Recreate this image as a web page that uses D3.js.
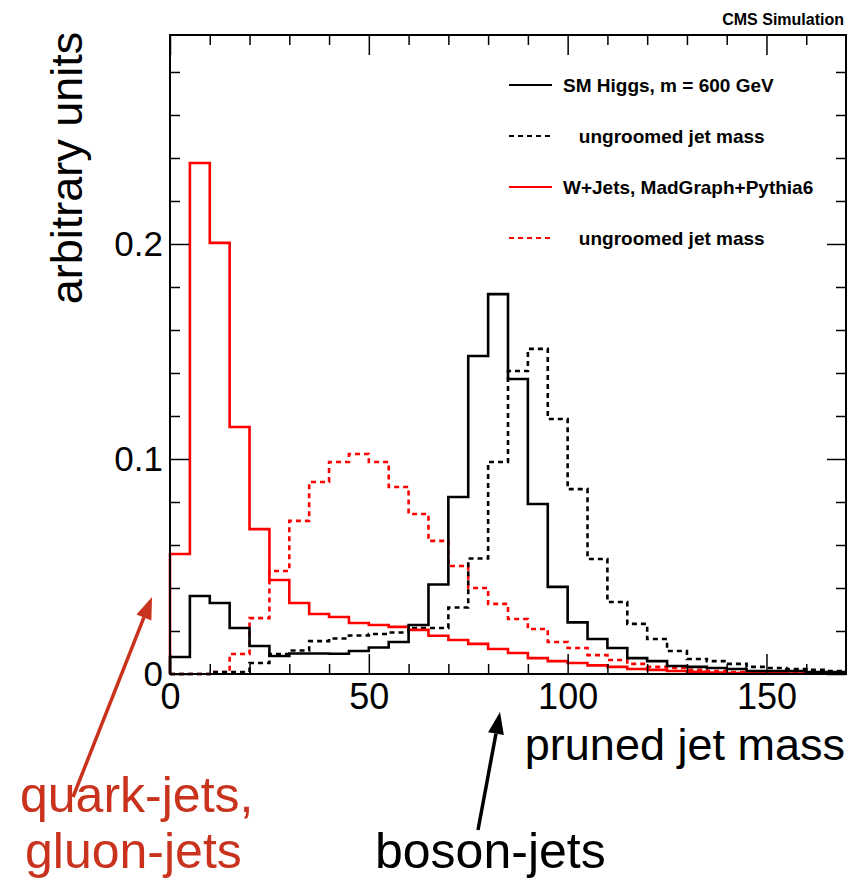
<!DOCTYPE html>
<html>
<head>
<meta charset="utf-8">
<script src="https://cdn.jsdelivr.net/npm/d3@7"></script>
<style>
  html, body { margin: 0; padding: 0; background: #fff; }
  svg { display: block; }
</style>
</head>
<body>
<svg id="chart" width="859" height="893"></svg>
<script>
// ---- data ----
const binEdgesStart = 0;
const binWidth = 5;
const higgsPruned = [0.0079,0.0363,0.0330,0.0214,0.0130,0.0084,0.0095,0.0095,0.0094,0.0107,0.0123,0.0149,0.0228,0.0416,0.0823,0.1479,0.1767,0.1372,0.0791,0.0405,0.0240,0.0163,0.0121,0.0074,0.0060,0.0037,0.0033,0.0028,0.0023,0.0014,0.0014,0.0014,0.0009,0.0009];
const higgsUngroomed = [0,0,0.0009,0.0009,0.0051,0.0093,0.0109,0.0153,0.0165,0.0179,0.0186,0.0193,0.0214,0.0214,0.0309,0.0537,0.0986,0.1409,0.1512,0.1186,0.0860,0.0535,0.0335,0.0233,0.0163,0.0107,0.0070,0.0060,0.0047,0.0033,0.0028,0.0023,0.0019,0.0014];
const wjetsPruned = [0.0558,0.2377,0.2005,0.1149,0.0674,0.0437,0.0330,0.0279,0.0265,0.0237,0.0228,0.0219,0.0205,0.0178,0.0158,0.0140,0.0116,0.0098,0.0074,0.0060,0.0051,0.0040,0.0033,0.0023,0.0019,0.0014,0.0010,0.0007,0.0005,0.0004,0.0003,0.0002,0.0002,0.0001];
const wjetsUngroomed = [0,0,0.0009,0.0093,0.0260,0.0479,0.0712,0.0893,0.0986,0.1023,0.0986,0.0870,0.0744,0.0619,0.0502,0.0400,0.0326,0.0256,0.0209,0.0149,0.0121,0.0088,0.0065,0.0047,0.0033,0.0028,0.0019,0.0014,0.0009,0.0007,0.0005,0.0004,0.0003,0.0002];
const xMajorTicks = [0, 50, 100, 150];
const xMinorTicks = [10,20,30,40,60,70,80,90,110,120,130,140,160];
const yMajorTicks = [0, 0.1, 0.2];
const yTickLabels = ["0", "0.1", "0.2"];
const yMinorTicks = [0.02,0.04,0.06,0.08,0.12,0.14,0.16,0.18,0.22,0.24,0.26,0.28];
const legendLabels = ["SM Higgs, m = 600 GeV", "   ungroomed jet mass", "W+Jets, MadGraph+Pythia6", "   ungroomed jet mass"];

// ---- layout ----
const svg = d3.select("#chart");
const L = 170, R = 846, T = 35, B = 674;
const x = d3.scaleLinear().domain([0, 170]).range([L, R]);
const y = d3.scaleLinear().domain([0, 0.2972]).range([B, T]);
const font = "'Liberation Sans', Arial, Helvetica, sans-serif";

function histPoints(vals) {
  const pts = [[binEdgesStart, 0]];
  vals.forEach((v, i) => pts.push([binEdgesStart + i * binWidth, v]));
  pts.push([binEdgesStart + vals.length * binWidth, vals[vals.length - 1]]);
  return pts;
}
const line = d3.line().x(d => x(d[0])).y(d => y(d[1])).curve(d3.curveStepAfter);

const series = [
  { vals: wjetsUngroomed, color: "#ff0000", dash: "5,4" },
  { vals: higgsUngroomed, color: "#000000", dash: "5,4" },
  { vals: wjetsPruned, color: "#ff0000", dash: null },
  { vals: higgsPruned, color: "#000000", dash: null }
];
const plot = svg.append("g");
series.forEach(s => {
  plot.append("path")
    .attr("d", line(histPoints(s.vals)))
    .attr("fill", "none")
    .attr("stroke", s.color)
    .attr("stroke-width", 2.6)
    .attr("stroke-dasharray", s.dash)
    .attr("stroke-linejoin", "miter");
});

// ---- axes ----
function styleAxis(g) {
  g.select(".domain").remove();
  g.selectAll(".tick line").attr("stroke", "#000").attr("stroke-width", 1.5);
}
// bottom
svg.append("g").attr("transform", `translate(0,${B})`)
  .call(d3.axisBottom(x).tickValues(xMajorTicks).tickSize(-20).tickPadding(9).tickFormat(d3.format("d")))
  .call(styleAxis)
  .call(g => g.selectAll("text").attr("font-family", font).attr("font-size", 36).attr("fill", "#000"));
svg.append("g").attr("transform", `translate(0,${B})`)
  .call(d3.axisBottom(x).tickValues(xMinorTicks).tickSize(-10).tickFormat(""))
  .call(styleAxis);
// top
svg.append("g").attr("transform", `translate(0,${T})`)
  .call(d3.axisTop(x).tickValues(xMajorTicks).tickSize(-20).tickFormat(""))
  .call(styleAxis);
svg.append("g").attr("transform", `translate(0,${T})`)
  .call(d3.axisTop(x).tickValues(xMinorTicks).tickSize(-10).tickFormat(""))
  .call(styleAxis);
// left
svg.append("g").attr("transform", `translate(${L},0)`)
  .call(d3.axisLeft(y).tickValues(yMajorTicks).tickSize(-19).tickPadding(7).tickFormat((d, i) => yTickLabels[i]))
  .call(styleAxis)
  .call(g => g.selectAll("text").attr("font-family", font).attr("font-size", 35).attr("fill", "#000"));
svg.append("g").attr("transform", `translate(${L},0)`)
  .call(d3.axisLeft(y).tickValues(yMinorTicks).tickSize(-10).tickFormat(""))
  .call(styleAxis);
// right
svg.append("g").attr("transform", `translate(${R},0)`)
  .call(d3.axisRight(y).tickValues(yMajorTicks).tickSize(-19).tickFormat(""))
  .call(styleAxis);
svg.append("g").attr("transform", `translate(${R},0)`)
  .call(d3.axisRight(y).tickValues(yMinorTicks).tickSize(-10).tickFormat(""))
  .call(styleAxis);

// frame
svg.append("rect").attr("x", L).attr("y", T).attr("width", R - L).attr("height", B - T)
  .attr("fill", "none").attr("stroke", "#000").attr("stroke-width", 2);

// ---- titles ----
svg.append("text").attr("x", 844).attr("y", 25).attr("text-anchor", "end")
  .attr("font-family", font).attr("font-weight", "bold").attr("font-size", 16).text("CMS Simulation");
svg.append("text").attr("transform", "translate(82,168) rotate(-90)").attr("text-anchor", "middle")
  .attr("font-family", font).attr("font-size", 45).text("arbitrary units");
svg.append("text").attr("x", 845).attr("y", 760).attr("text-anchor", "end")
  .attr("font-family", font).attr("font-size", 45).text("pruned jet mass");

// ---- legend ----
const legendColors = ["#000", "#000", "#ff0000", "#ff0000"];
const legendDash = [null, "5,4", null, "5,4"];
const lg = svg.append("g");
legendLabels.forEach((t, i) => {
  const ly = 85 + i * 51;
  lg.append("line").attr("x1", 509).attr("x2", 552).attr("y1", ly).attr("y2", ly)
    .attr("stroke", legendColors[i]).attr("stroke-width", 2.2).attr("stroke-dasharray", legendDash[i]);
  lg.append("text").attr("x", 563).attr("y", ly).attr("dy", "0.36em")
    .attr("font-family", font).attr("font-weight", "bold").attr("font-size", 19)
    .attr("xml:space", "preserve").style("white-space", "pre").text(t);
});

// ---- annotations ----
const annRed = "#c9321c";
function arrow(x1, y1, x2, y2, color) {
  const ang = Math.atan2(y2 - y1, x2 - x1);
  const len = 22, w = 8;
  const bx = x2 - len * Math.cos(ang), by = y2 - len * Math.sin(ang);
  svg.append("line").attr("x1", x1).attr("y1", y1).attr("x2", bx).attr("y2", by)
    .attr("stroke", color).attr("stroke-width", 3.5);
  const px = -Math.sin(ang) * w, py = Math.cos(ang) * w;
  svg.append("path")
    .attr("d", `M${x2},${y2}L${bx + px},${by + py}L${bx - px},${by - py}Z`)
    .attr("fill", color);
}
arrow(73, 797, 152, 597, annRed);
arrow(478, 830, 500, 712, "#000");
svg.append("text").attr("x", 20).attr("y", 812).attr("font-family", font).attr("font-size", 50)
  .attr("fill", annRed).text("quark-jets,");
svg.append("text").attr("x", 25).attr("y", 868).attr("font-family", font).attr("font-size", 50)
  .attr("fill", annRed).text("gluon-jets");
svg.append("text").attr("x", 375).attr("y", 868).attr("font-family", font).attr("font-size", 50)
  .attr("fill", "#000").text("boson-jets");
</script>
</body>
</html>
